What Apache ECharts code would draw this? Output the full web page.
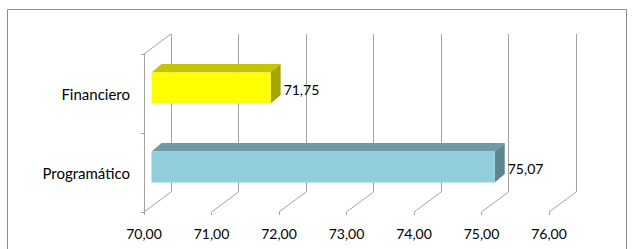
<!DOCTYPE html>
<html>
<head>
<meta charset="utf-8">
<script src="https://cdn.jsdelivr.net/npm/echarts@6/dist/echarts.min.js"></script>
<style>
  html, body { margin: 0; padding: 0; background: #fff; }
  #chart { width: 633px; height: 249px; }
</style>
</head>
<body>
<div id="chart"></div>
<script>
const categories = ['Programático', 'Financiero'];
const values = [75.07, 71.75];
const xTicks = [70, 71, 72, 73, 74, 75, 76];
const xMin = 70;
const xMax = 76;
const xInterval = 1;

const FONT = 'Lato';
const GRID_COLOR = '#a3a3a3';
const DEPTH_X = 27, DEPTH_Y = -20;
const barColors = [
  { front: '#92cddc', top: '#6f9aa5', side: '#5d8690' },
  { front: '#ffff00', top: '#c4c400', side: '#a5a500' }
];
const fmt = v => v.toFixed(2).replace('.', ',');

const chart = echarts.init(document.getElementById('chart'), null, { renderer: 'svg' });

const option = {
  animation: false,
  backgroundColor: '#fff',
  graphic: [{
    type: 'rect', silent: true, z: 0,
    shape: { x: 7.5, y: 9.5, width: 619, height: 260 },
    style: { fill: 'none', stroke: '#8c8c8c', lineWidth: 1 }
  }],
  grid: [
    { left: 144, top: 54, width: 405, height: 158 },
    { left: 144 + DEPTH_X, top: 54 + DEPTH_Y, width: 405, height: 158 }
  ],
  xAxis: [
    {
      gridIndex: 0, type: 'value', min: xMin, max: xMax, interval: xInterval,
      axisLine: { show: false },
      axisTick: { show: true, length: 3, lineStyle: { color: GRID_COLOR } },
      splitLine: { show: false },
      axisLabel: { formatter: v => fmt(v), color: '#000', fontFamily: FONT, fontSize: 14, margin: 14 }
    },
    {
      gridIndex: 1, type: 'value', min: xMin, max: xMax, interval: xInterval,
      axisLine: { show: false }, axisTick: { show: false }, axisLabel: { show: false },
      splitLine: { show: true, lineStyle: { color: GRID_COLOR, width: 1 } }
    }
  ],
  yAxis: [
    {
      gridIndex: 0, type: 'category', data: categories,
      axisLine: { show: true, lineStyle: { color: GRID_COLOR } },
      axisTick: { show: true, length: 3, lineStyle: { color: GRID_COLOR } },
      axisLabel: { color: '#000', fontFamily: FONT, fontSize: 15, margin: 14 }
    },
    {
      gridIndex: 1, type: 'category', data: categories, show: false
    }
  ],
  series: [
    {
      type: 'custom',
      xAxisIndex: 0, yAxisIndex: 0,
      silent: true, z: 1,
      data: xTicks.map(v => [v]),
      encode: { x: 0 },
      renderItem(params, api) {
        const v = api.value(0);
        const band = api.size([0, 1])[1];
        const pBottom = api.coord([v, 0]);
        const yb = pBottom[1] + band / 2;
        const children = [{
          type: 'line',
          shape: { x1: pBottom[0], y1: yb, x2: pBottom[0] + DEPTH_X, y2: yb + DEPTH_Y },
          style: { stroke: GRID_COLOR, lineWidth: 1 }
        }];
        if (v === xMin) {
          const pTop = api.coord([v, categories.length - 1]);
          const yt = pTop[1] - band / 2;
          children.push({
            type: 'line',
            shape: { x1: pTop[0], y1: yt, x2: pTop[0] + DEPTH_X, y2: yt + DEPTH_Y },
            style: { stroke: GRID_COLOR, lineWidth: 1 }
          });
        }
        return { type: 'group', children };
      }
    },
    {
      type: 'custom',
      xAxisIndex: 0, yAxisIndex: 0,
      silent: true, z: 3,
      data: values.map((v, i) => [v, i]),
      encode: { x: 0, y: 1 },
      renderItem(params, api) {
        const val = api.value(0);
        const cat = api.value(1);
        const band = api.size([0, 1])[1];
        const start = api.coord([xMin, cat]);
        const end = api.coord([val, cat]);
        const ox = 7.5, oy = -5.5, dx = 10, dy = -8.5;
        const h = band * 0.39;
        const x0 = start[0] + ox;
        const x1 = end[0] + ox + 1;
        const yc = start[1] + oy;
        const yt = yc - h / 2, yb = yc + h / 2;
        const c = barColors[cat];
        return {
          type: 'group',
          children: [
            { type: 'polygon', shape: { points: [[x0, yt], [x0 + dx, yt + dy], [x1 + dx, yt + dy], [x1, yt]] }, style: { fill: c.top } },
            { type: 'polygon', shape: { points: [[x1, yt], [x1 + dx, yt + dy], [x1 + dx, yb + dy], [x1, yb]] }, style: { fill: c.side } },
            { type: 'rect', shape: { x: x0, y: yt, width: x1 - x0, height: h }, style: { fill: c.front } },
            { type: 'text', style: { text: fmt(val), x: x1 + dx + 3, y: yc + 1, textVerticalAlign: 'middle', textAlign: 'left', fill: '#000', font: '14px ' + FONT } }
          ]
        };
      }
    }
  ]
};
chart.setOption(option);
</script>
</body>
</html>
